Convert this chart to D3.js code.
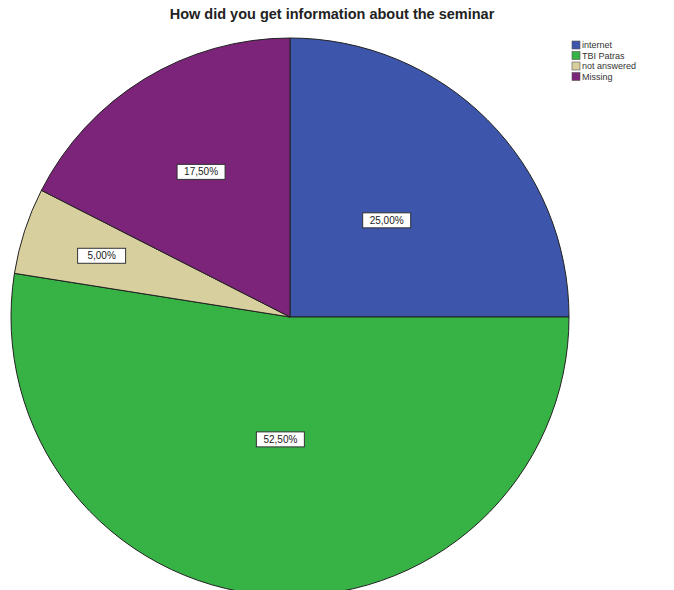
<!DOCTYPE html>
<html>
<head>
<meta charset="utf-8">
<script src="https://cdn.jsdelivr.net/npm/d3@7"></script>
<style>
  body { margin: 0; background: #fff; }
  svg { display: block; font-family: "Liberation Sans", Arial, sans-serif; }
</style>
</head>
<body>
<div id="chart"></div>
<script>
const categories = ['internet', 'TBI Patras', 'not answered', 'Missing']
const percents = [25.0, 52.5, 5.0, 17.5]
const colors = ['#3d56ac', '#37b346', '#d8cf9f', '#7c2479']

const width = 674
const height = 590
const cx = 290
const cy = 317
const radius = 279
// where each label sits along its slice, as a share of the radius
const labelFrac = [0.49, 0.44, 0.71, 0.61]

const svg = d3.select('#chart')
    .append('svg')
    .attr('width', width)
    .attr('height', height)

svg.append('text')
    .attr('x', 332)
    .attr('y', 19)
    .attr('text-anchor', 'middle')
    .attr('font-size', 14.5)
    .attr('font-weight', 'bold')
    .attr('fill', '#222')
    .text('How did you get information about the seminar')

const pie = d3.pie().sort(null).value(d => d)
const arcs = pie(percents)

const arc = d3.arc().innerRadius(0).outerRadius(radius)

const g = svg.append('g')
    .attr('transform', `translate(${cx},${cy})`)

g.selectAll('path.slice')
    .data(arcs)
    .enter()
    .append('path')
    .attr('class', 'slice')
    .attr('d', arc)
    .attr('fill', (d, i) => colors[i])
    .attr('stroke', '#222')
    .attr('stroke-width', 1)

const fmt = v => d3.format('.2f')(v).replace('.', ',') + '%'

const labels = g.selectAll('g.label')
    .data(arcs)
    .enter()
    .append('g')
    .attr('class', 'label')
    .attr('transform', (d, i) => {
        const r = radius * labelFrac[i]
        const c = d3.arc().innerRadius(r).outerRadius(r).centroid(d)
        return `translate(${c[0]},${c[1]})`
    })

labels.append('rect')
    .attr('x', -24)
    .attr('y', -7.5)
    .attr('width', 48)
    .attr('height', 15)
    .attr('fill', '#fff')
    .attr('stroke', '#333')
    .attr('stroke-width', 1)

labels.append('text')
    .attr('text-anchor', 'middle')
    .attr('dy', '0.35em')
    .attr('font-size', 10)
    .attr('fill', '#222')
    .text(d => fmt(d.data))

const legend = svg.append('g')
    .attr('transform', 'translate(572,41)')

const items = legend.selectAll('g')
    .data(categories)
    .enter()
    .append('g')
    .attr('transform', (d, i) => `translate(0,${i * 10.5})`)

items.append('rect')
    .attr('width', 8)
    .attr('height', 8)
    .attr('fill', (d, i) => colors[i])
    .attr('stroke', '#555')
    .attr('stroke-width', 0.6)

items.append('text')
    .attr('x', 10)
    .attr('y', 4)
    .attr('dy', '0.35em')
    .attr('font-size', 9)
    .attr('fill', '#333')
    .text(d => d)
</script>
</body>
</html>
